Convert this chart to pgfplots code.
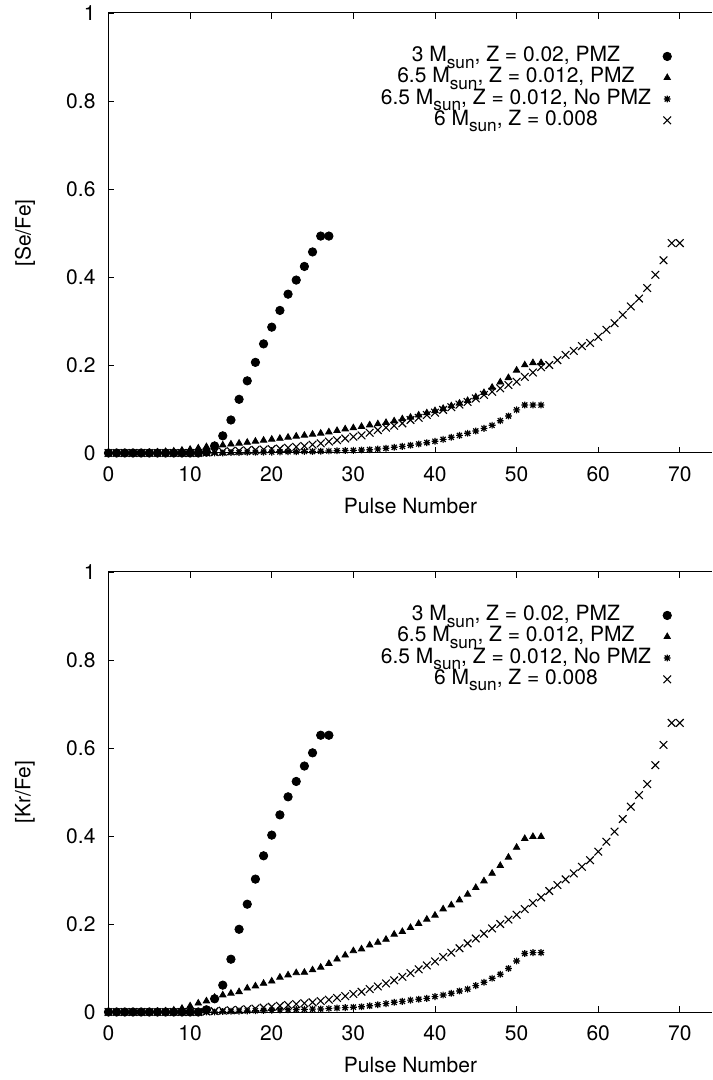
\documentclass[border=0pt]{standalone}
\usepackage{fontspec}
\setmainfont{TeX Gyre Heros}
\usepackage{pgfplots}
\pgfplotsset{compat=1.18}
\usepackage{pgfplotstable}

\newcommand{\sun}{\raisebox{-3.2pt}{\fontsize{8.6}{9}\selectfont sun}}

\pgfdeclareplotmark{ast}{%
  \pgfpathmoveto{\pgfqpoint{0pt}{\pgfplotmarksize}}%
  \pgfpathlineto{\pgfqpoint{0pt}{-\pgfplotmarksize}}%
  \pgfpathmoveto{\pgfqpoint{-\pgfplotmarksize}{0pt}}%
  \pgfpathlineto{\pgfqpoint{\pgfplotmarksize}{0pt}}%
  \pgfpathmoveto{\pgfqpoint{-.75\pgfplotmarksize}{-.75\pgfplotmarksize}}%
  \pgfpathlineto{\pgfqpoint{.75\pgfplotmarksize}{.75\pgfplotmarksize}}%
  \pgfpathmoveto{\pgfqpoint{-.75\pgfplotmarksize}{.75\pgfplotmarksize}}%
  \pgfpathlineto{\pgfqpoint{.75\pgfplotmarksize}{-.75\pgfplotmarksize}}%
  \pgfusepathqstroke}

% ---------- [Se/Fe] ----------
\pgfplotstableread{
x y
0 0
1 0
2 0
3 0
4 0
5 0
6 0
7 0
8 0
9 0
10 0
11 0
12 0.002
13 0.016
14 0.039
15 0.075
16 0.122
17 0.164
18 0.206
19 0.248
20 0.286
21 0.324
22 0.361
23 0.393
24 0.424
25 0.457
26 0.493
27 0.493
}\seA
\pgfplotstableread{
x y
0 0
1 0
2 0
3 0
4 0
5 0.001
6 0.002
7 0.003
8 0.004
9 0.006
10 0.008
11 0.011
12 0.014
13 0.0167
14 0.018
15 0.020
16 0.022
17 0.024
18 0.0265
19 0.0288
20 0.031
21 0.033
22 0.0356
23 0.038
24 0.040
25 0.0424
26 0.0447
27 0.0477
28 0.0508
29 0.0545
30 0.057
31 0.060
32 0.0636
33 0.066
34 0.069
35 0.0727
36 0.0773
37 0.081
38 0.086
39 0.091
40 0.096
41 0.101
42 0.107
43 0.113
44 0.119
45 0.127
46 0.137
47 0.149
48 0.161
49 0.171
50 0.188
51 0.200
52 0.205
53 0.205
}\seB
\pgfplotstableread{
x y
0 0
1 0
2 0
3 0
4 0
5 0
6 0
7 0
8 0
9 0
10 0
11 0
12 0
13 0
14 0
15 0.001
16 0.001
17 0.0015
18 0.0015
19 0.002
20 0.002
21 0.0025
22 0.003
23 0.003
24 0.0035
25 0.0035
26 0.004
27 0.0045
28 0.005
29 0.0055
30 0.006
31 0.0068
32 0.0076
33 0.009
34 0.0106
35 0.013
36 0.015
37 0.0174
38 0.0205
39 0.0235
40 0.0265
41 0.031
42 0.0356
43 0.040
44 0.0447
45 0.050
46 0.056
47 0.063
48 0.0735
49 0.084
50 0.098
51 0.109
52 0.109
53 0.109
}\seC
\pgfplotstableread{
x y
0 0
1 0
2 0
3 0
4 0
5 0
6 0
7 0
8 0
9 0
10 0
11 0
12 0.001
13 0.002
14 0.003
15 0.004
16 0.005
17 0.006
18 0.007
19 0.008
20 0.009
21 0.010
22 0.012
23 0.014
24 0.016
25 0.019
26 0.022
27 0.026
28 0.029
29 0.033
30 0.037
31 0.040
32 0.046
33 0.052
34 0.0576
35 0.062
36 0.0674
37 0.075
38 0.080
39 0.0864
40 0.0917
41 0.098
42 0.104
43 0.110
44 0.116
45 0.124
46 0.132
47 0.139
48 0.147
49 0.1545
50 0.162
51 0.173
52 0.183
53 0.195
54 0.200
55 0.211
56 0.223
57 0.232
58 0.243
59 0.250
60 0.264
61 0.280
62 0.295
63 0.314
64 0.333
65 0.351
66 0.375
67 0.405
68 0.438
69 0.477
70 0.477
}\seD

% ---------- [Kr/Fe] ----------
\pgfplotstableread{
x y
0 0
1 0
2 0
3 0
4 0
5 0
6 0
7 0
8 0
9 0
10 0
11 0
12 0.005
13 0.030
14 0.061
15 0.120
16 0.188
17 0.245
18 0.302
19 0.355
20 0.402
21 0.448
22 0.489
23 0.524
24 0.559
25 0.589
26 0.629
27 0.629
}\krA
\pgfplotstableread{
x y
0 0
1 0
2 0
3 0
4 0
5 0
6 0.001
7 0.002
8 0.004
9 0.008
10 0.0136
11 0.020
12 0.025
13 0.033
14 0.0386
15 0.0424
16 0.046
17 0.054
18 0.059
19 0.065
20 0.070
21 0.0788
22 0.084
23 0.089
24 0.090
25 0.0955
26 0.1015
27 0.110
28 0.120
29 0.129
30 0.139
31 0.143
32 0.152
33 0.158
34 0.165
35 0.1765
36 0.1826
37 0.1917
38 0.2008
39 0.2106
40 0.2197
41 0.234
42 0.243
43 0.2545
44 0.2674
45 0.2826
46 0.2977
47 0.315
48 0.3326
49 0.3515
50 0.374
51 0.394
52 0.3985
53 0.3985
}\krB
\pgfplotstableread{
x y
0 0
1 0
2 0
3 0
4 0
5 0
6 0
7 0
8 0
9 0
10 0
11 0
12 0
13 0
14 0.001
15 0.0015
16 0.002
17 0.0025
18 0.003
19 0.0035
20 0.004
21 0.0045
22 0.005
23 0.0055
24 0.006
25 0.0065
26 0.007
27 0.008
28 0.009
29 0.010
30 0.011
31 0.012
32 0.014
33 0.0165
34 0.019
35 0.022
36 0.0242
37 0.027
38 0.029
39 0.031
40 0.035
41 0.0386
42 0.0424
43 0.0477
44 0.052
45 0.060
46 0.0674
47 0.0765
48 0.0856
49 0.099
50 0.116
51 0.133
52 0.135
53 0.135
}\krC
\pgfplotstableread{
x y
0 0
1 0
2 0
3 0
4 0
5 0
6 0
7 0
8 0
9 0
10 0
11 0
12 0.001
13 0.002
14 0.003
15 0.004
16 0.005
17 0.0065
18 0.008
19 0.010
20 0.012
21 0.014
22 0.016
23 0.018
24 0.020
25 0.022
26 0.025
27 0.028
28 0.032
29 0.036
30 0.041
31 0.046
32 0.052
33 0.058
34 0.065
35 0.072
36 0.080
37 0.0885
38 0.097
39 0.106
40 0.115
41 0.125
42 0.135
43 0.145
44 0.156
45 0.167
46 0.178
47 0.190
48 0.200
49 0.210
50 0.221
51 0.234
52 0.2477
53 0.2606
54 0.275
55 0.2886
56 0.3015
57 0.315
58 0.330
59 0.345
60 0.3644
61 0.387
62 0.410
63 0.4386
64 0.4667
65 0.493
66 0.518
67 0.561
68 0.607
69 0.657
70 0.657
}\krD

\pgfplotsset{
  om/.style={only marks, black,
    legend image code/.code={\path (0pt,0pt) (12pt,0pt); \draw[##1] plot coordinates {(8pt,2.6pt)};}},
  sA/.style={om, mark=*, mark size=2.1pt},
  sB/.style={om, mark=triangle*, mark size=1.85pt},
  sC/.style={om, mark=ast, mark size=1.7pt, mark options={line width=0.6pt}},
  sD/.style={om, mark=x, mark size=2.7pt, mark options={line width=0.55pt}},
  myaxis/.style={
    scale only axis, width=302pt, height=220pt,
    xmin=0, xmax=74, ymin=0, ymax=1,
    axis x line=box, axis y line=left,
    x axis line style={-}, y axis line style={-},
    axis line style={line width=0.5pt},
    tick align=inside,
    xtick={0,10,...,70}, ytick={0,0.2,0.4,0.6,0.8,1},
    major tick length=3pt,
    every tick/.style={black, line width=0.4pt},
    clip=false,
    font=\fontsize{10.5}{12.6}\selectfont,
    /pgf/number format/assume math mode=true,
    ticklabel style={font=\fontsize{10.5}{12.6}\selectfont},
    xticklabel style={yshift=-3.5pt},
    yticklabel style={xshift=-3pt},
    xlabel={Pulse Number},
    xlabel style={at={(axis description cs:0.5,-0.1386)}, anchor=base},
    ylabel style={at={(axis description cs:-0.1382,0.5)}, anchor=center},
    legend cell align=right,
    legend plot pos=right,
    legend style={at={(axis description cs:0.939,0.924)}, anchor=north east,
      draw=none, fill=none, inner sep=0pt, outer sep=0pt, row sep=0pt,
      nodes={inner sep=0pt, text height=7.6pt, text depth=3.05pt, anchor=base}},
  }
}

\begin{document}
\begin{tikzpicture}
\begin{axis}[myaxis, ylabel={[Se/Fe]}]
\addplot[sA] table {\seA};
\addlegendentry{3 M\sun, Z = 0.02, PMZ}
\addplot[sB] table {\seB};
\addlegendentry{6.5 M\sun, Z = 0.012, PMZ}
\addplot[sC] table {\seC};
\addlegendentry{6.5 M\sun, Z = 0.012, No PMZ}
\addplot[sD] table {\seD};
\addlegendentry{6 M\sun, Z = 0.008}
\end{axis}
\begin{axis}[myaxis, at={(0pt,-279.5pt)}, anchor=south west, ylabel={[Kr/Fe]}]
\addplot[sA] table {\krA};
\addlegendentry{3 M\sun, Z = 0.02, PMZ}
\addplot[sB] table {\krB};
\addlegendentry{6.5 M\sun, Z = 0.012, PMZ}
\addplot[sC] table {\krC};
\addlegendentry{6.5 M\sun, Z = 0.012, No PMZ}
\addplot[sD] table {\krD};
\addlegendentry{6 M\sun, Z = 0.008}
\end{axis}
\pgfresetboundingbox
\path[use as bounding box] (-54.25pt,-313.5pt) rectangle (302pt,226.5pt);
\end{tikzpicture}
\end{document}
